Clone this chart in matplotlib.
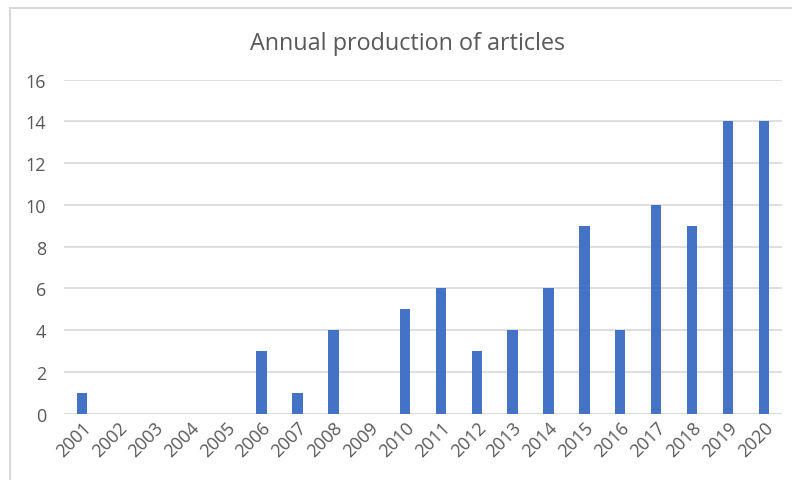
import matplotlib
matplotlib.use("Agg")
import matplotlib.pyplot as plt
from matplotlib.lines import Line2D
import numpy as np

years = [str(y) for y in range(2001, 2021)]
articles = [1, 0, 0, 0, 0, 3, 1, 4, 0, 5, 6, 3, 4, 6, 9, 4, 10, 9, 14, 14]
yticks = [0, 2, 4, 6, 8, 10, 12, 14, 16]

plt.rcParams['font.family'] = ['Open Sans', 'DejaVu Sans']

fig = plt.figure(figsize=(7.92, 4.81), dpi=100)
ax = fig.add_axes([0.0812, 0.1378, 0.9058, 0.6944])

x = np.arange(len(years))
ax.bar(x, articles, width=0.29, color='#4472C4', zorder=3)
ax.set_xlim(-0.5, len(years) - 0.5)
ax.set_ylim(0, 16)
ax.set_yticks(yticks)
ax.set_yticklabels([str(v) for v in yticks], fontsize=13, color='#595959')
ax.set_xticks(x)
ax.set_xticklabels(years, rotation=45, ha='right', rotation_mode='anchor',
                   fontsize=13, color='#595959')
ax.tick_params(axis='both', length=0)
ax.tick_params(axis='y', pad=13)
ax.tick_params(axis='x', pad=3)
ax.grid(axis='y', color='#d9d9d9', linewidth=1.2, zorder=0)
for s in ax.spines.values():
    s.set_visible(False)
ax.axhline(0, color='#d9d9d9', linewidth=1.2, zorder=1)

fig.text(0.515, 0.908, 'Annual production of articles', ha='center', va='center',
         fontsize=16.8, color='#595959')

fig.add_artist(Line2D([10/792, 10/792], [0, 1 - 9/481], transform=fig.transFigure,
                      color='#d9d9d9', linewidth=1.5))
fig.add_artist(Line2D([10/792, 1], [1 - 9/481, 1 - 9/481], transform=fig.transFigure,
                      color='#d9d9d9', linewidth=1.5))

fig.savefig('out.png', dpi=100, facecolor='white')
